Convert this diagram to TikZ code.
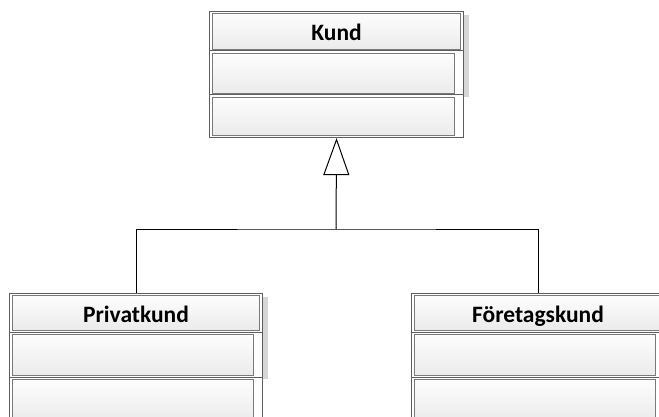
\documentclass[tikz,border=0pt]{standalone}
\usepackage{fontspec}
\setmainfont{Carlito}
\usetikzlibrary{arrows.meta}

\definecolor{edgegray}{HTML}{5E5E5E}
\definecolor{innergray}{HTML}{7A7A7A}
\definecolor{shadowgray}{HTML}{D6D6D6}
\definecolor{fillhi}{HTML}{FDFDFD}
\definecolor{filllo}{HTML}{EBEBEB}

\tikzset{
  x=1pt, y=-1pt,
  outerbox/.style={draw=edgegray, line width=1.1pt, fill=white, inner sep=0pt, anchor=north west},
  titlebox/.style={draw=innergray, line width=1pt, top color=fillhi, bottom color=filllo,
    inner sep=0pt, anchor=north west, text=black,
    font=\fontsize{23.5}{26}\selectfont\bfseries, text height=18pt, text depth=0pt},
  slotbox/.style={draw=innergray, line width=1pt, top color=fillhi, bottom color=filllo,
    inner sep=0pt, anchor=north west},
  shadowstrip/.style={fill=shadowgray, draw=none},
  divider/.style={draw=edgegray, line width=1pt},
  link/.style={draw=black, line width=1pt},
}

% #1 name, #2 left, #3 right, #4 top, #5 title bottom, #6 divider, #7 bottom, #8 title
\newcommand{\umlclass}[8]{%
  \pgfmathsetmacro{\cw}{#3-#2}%
  \pgfmathsetmacro{\ch}{#7-#4}%
  \pgfmathsetmacro{\tw}{#3-#2-6}%
  \pgfmathsetmacro{\th}{#5-#4-4}%
  \pgfmathsetmacro{\sw}{#3-#2-12}%
  \pgfmathsetmacro{\sa}{#6-#5-4}%
  \pgfmathsetmacro{\sb}{#7-#6-4}%
  \fill[shadowstrip] (#3,#4+4) rectangle (#3+6,#6+2);
  \node[outerbox, minimum width=\cw pt, minimum height=\ch pt] (#1) at (#2,#4) {};
  \node[titlebox, minimum width=\tw pt, minimum height=\th pt] (#1-title) at (#2+3,#4+2) {#8};
  \node[slotbox, minimum width=\sw pt, minimum height=\sa pt] (#1-attr) at (#2+3,#5+2) {};
  \node[slotbox, minimum width=\sw pt, minimum height=\sb pt] (#1-ops) at (#2+3,#6+2) {};
  \draw[divider] (#2,#5) -- (#3,#5);
  \draw[divider] (#2,#6) -- (#3,#6);
}

\begin{document}
\begin{tikzpicture}
  \useasboundingbox (0,0) rectangle (659,417);
  \clip (0,0) rectangle (659,417);
  \fill[white] (0,0) rectangle (659,417);

  \umlclass{kund}{209}{463}{11}{51}{95}{137}{Kund}
  \umlclass{privat}{9}{262}{293}{332}{377}{422}{Privatkund}
  \umlclass{firma}{411}{664}{293}{332}{377}{422}{Företagskund}

  % generalisation: both subclasses meet at one junction below the triangle
  \coordinate (join) at (336,229);
  \draw[link] (privat.north) |- (join) -| (firma.north);
  \draw[link, -{Triangle[open, width=26pt, length=37pt, line width=1pt]}] (join) -- (kund.south);
\end{tikzpicture}
\end{document}
